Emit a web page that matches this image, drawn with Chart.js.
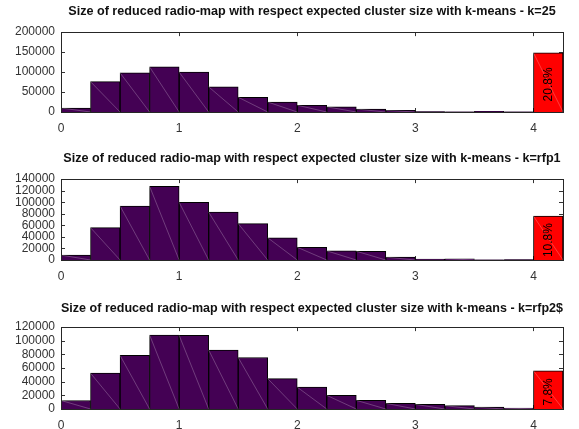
<!DOCTYPE html>
<html>
<head>
<meta charset="utf-8">
<script src="https://cdn.jsdelivr.net/npm/chart.js@4.4.1/dist/chart.umd.min.js"></script>
<style>
  body { margin: 0; background: #fff; }
  #wrap { position: relative; width: 579px; height: 429px; }
  .pane { position: absolute; left: 0; width: 579px; }
</style>
</head>
<body>
<div id="wrap">
  <div class="pane" style="top:0px;height:140px"><canvas id="c1"></canvas></div>
  <div class="pane" style="top:140px;height:146px"><canvas id="c2"></canvas></div>
  <div class="pane" style="top:286px;height:143px"><canvas id="c3"></canvas></div>
</div>
<script>
// bin centres (width 0.25), last bin is the red one
const binCenters = [0.125, 0.375, 0.625, 0.875, 1.125, 1.375, 1.625, 1.875, 2.125,
  2.375, 2.625, 2.875, 3.125, 3.375, 3.625, 3.875, 4.125];
const xTicks = [0, 1, 2, 3, 4];

const titles = [
  "Size of reduced radio-map with respect expected cluster size with k-means - k=25",
  "Size of reduced radio-map with respect expected cluster size with k-means - k=rfp1",
  "Size of reduced radio-map with respect expected cluster size with k-means - k=rfp2$"
];

const countsK25 = [10000, 76000, 98000, 113000, 100000, 63000, 37000, 25000, 17000,
  13000, 7500, 4000, 800, 500, 1500, 300, 148000];
const countsRfp1 = [8500, 56000, 93500, 127500, 100000, 83000, 63000, 38500, 22000,
  15800, 15200, 5000, 1700, 2200, 500, 800, 76000];
const countsRfp2 = [12500, 52500, 78500, 108500, 108000, 86500, 75500, 44500, 32000,
  20000, 12700, 8300, 6800, 4900, 2900, 1500, 56000];

const pctLabels = ["20.8%", "10.8%", "7.8%"];
const yMax = [200000, 140000, 120000];
const yStep = [50000, 20000, 20000];

// title padding / x-axis height per panel so the plot boxes land where the original has them
const titlePad = [{top: 4, bottom: 13}, {top: 11, bottom: 13}, {top: 15, bottom: 11}];
const xAxisH = [28, 26, 20];

const purple = "#440154";
const red = "#ff0000";
const fontFam = "'Liberation Sans', Arial, sans-serif";

const boxPlugin = {
  id: "box",
  beforeDatasetsDraw(chart) {
    const {ctx, chartArea: a, scales} = chart;
    ctx.save();
    ctx.strokeStyle = "#333";
    ctx.lineWidth = 1;
    ctx.beginPath();
    scales.x.ticks.forEach(t => {
      const px = Math.round(scales.x.getPixelForValue(t.value)) + 0.5;
      ctx.moveTo(px, a.top); ctx.lineTo(px, a.top + 4);
      ctx.moveTo(px, a.bottom); ctx.lineTo(px, a.bottom - 4);
    });
    scales.y.ticks.forEach(t => {
      const py = Math.round(scales.y.getPixelForValue(t.value)) + 0.5;
      ctx.moveTo(a.left, py); ctx.lineTo(a.left + 4, py);
      ctx.moveTo(a.right, py); ctx.lineTo(a.right - 4, py);
    });
    ctx.stroke();
    ctx.restore();
  },
  afterDatasetsDraw(chart, args, opts) {
    const {ctx, chartArea: a} = chart;
    const bars = chart.getDatasetMeta(0).data;
    ctx.save();
    // thin light diagonal across every bar
    ctx.strokeStyle = "rgba(255,255,255,0.4)";
    ctx.lineWidth = 0.6;
    bars.forEach(b => {
      if (Math.abs(b.base - b.y) < 1) return;
      ctx.beginPath();
      ctx.moveTo(b.x - b.width / 2, b.y);
      ctx.lineTo(b.x + b.width / 2, b.base);
      ctx.stroke();
    });
    // percentage label in the red bar
    const last = bars[bars.length - 1];
    ctx.translate(last.x, (last.y + last.base) / 2 + 2);
    ctx.rotate(-Math.PI / 2);
    ctx.fillStyle = "#000";
    ctx.font = "12px " + fontFam;
    ctx.textAlign = "center";
    ctx.textBaseline = "middle";
    ctx.fillText(opts.label, 0, 0);
    ctx.restore();
    // frame
    ctx.save();
    ctx.strokeStyle = "#262626";
    ctx.lineWidth = 1;
    ctx.strokeRect(Math.round(a.left) + 0.5, Math.round(a.top) + 0.5,
      Math.round(a.right - a.left), Math.round(a.bottom - a.top));
    ctx.restore();
  }
};

const makeChart = (id, i, counts) => {
  const colors = counts.map((v, k) => k === counts.length - 1 ? red : purple);
  return new Chart(document.getElementById(id), {
    type: "bar",
    plugins: [boxPlugin],
    data: {
      datasets: [{
        data: binCenters.map((x, k) => ({x: x, y: counts[k]})),
        backgroundColor: colors,
        borderColor: "#000",
        borderWidth: 1,
        barPercentage: 1,
        categoryPercentage: 1
      }]
    },
    options: {
      responsive: true,
      maintainAspectRatio: false,
      animation: false,
      layout: {padding: {left: 0, right: 16, top: 0, bottom: 0}},
      plugins: {
        legend: {display: false},
        tooltip: {enabled: false},
        title: {
          display: true,
          text: titles[i],
          fullSize: false,
          color: "#111",
          font: {family: fontFam, size: 12.6, weight: "bold", lineHeight: 1.2},
          padding: titlePad[i]
        },
        box: {label: pctLabels[i]}
      },
      scales: {
        x: {
          type: "linear",
          min: 0,
          max: 4.25,
          offset: false,
          grid: {display: false, drawTicks: false, tickLength: 0},
          border: {display: false},
          afterBuildTicks: s => { s.ticks = xTicks.map(v => ({value: v})); },
          afterFit: s => { s.height = xAxisH[i]; },
          ticks: {
            padding: 9,
            color: "#333",
            maxRotation: 0,
            font: {family: fontFam, size: 12}
          }
        },
        y: {
          min: 0,
          max: yMax[i],
          grid: {display: false, drawTicks: false, tickLength: 0},
          border: {display: false},
          afterFit: s => { s.width = 61; },
          ticks: {
            stepSize: yStep[i],
            autoSkip: false,
            padding: 6,
            color: "#333",
            callback: v => String(v),
            font: {family: fontFam, size: 12}
          }
        }
      }
    }
  });
};

makeChart("c1", 0, countsK25);
makeChart("c2", 1, countsRfp1);
makeChart("c3", 2, countsRfp2);
</script>
</body>
</html>
